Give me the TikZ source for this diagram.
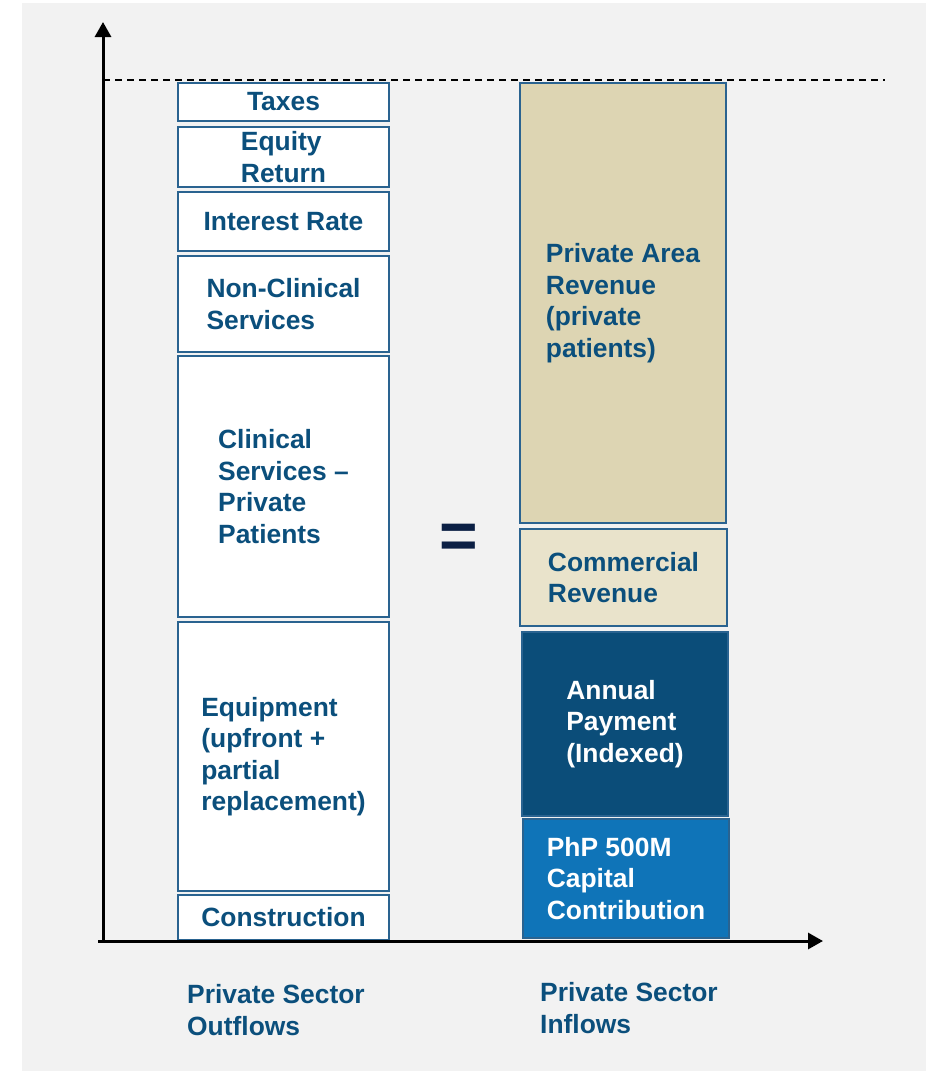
\documentclass[tikz,border=0pt]{standalone}
\usepackage{fontspec}
\setmainfont{Liberation Sans}
\usetikzlibrary{arrows.meta}
\definecolor{textblue}{HTML}{0B4F7C}
\definecolor{edgeblue}{HTML}{2A6390}
\definecolor{sand}{HTML}{DDD5B3}
\definecolor{lightsand}{HTML}{E9E3CB}
\definecolor{darkblue}{HTML}{0B4D79}
\definecolor{midblue}{HTML}{0F74B8}
\definecolor{navy}{HTML}{0B1F44}
\definecolor{panel}{HTML}{F2F2F2}
\tikzset{
  cell/.style={draw=edgeblue, line width=1.5pt, inner sep=0pt, align=left,
    font=\fontsize{26.4}{31.5}\selectfont\bfseries, text=textblue},
  outcell/.style={cell, fill=white, minimum width=211pt},
  incell/.style={cell, minimum width=206pt},
  axis/.style={line width=3pt, -{Triangle[length=15pt,width=16pt]}},
  caption/.style={inner sep=0pt, align=left, anchor=north west,
    font=\fontsize{26.4}{32}\selectfont\bfseries, text=textblue}
}
\begin{document}
\begin{tikzpicture}[x=1pt,y=-1pt]
\useasboundingbox (0,0) rectangle (930,1071);
\fill[white] (0,0) rectangle (930,1071);
\fill[panel] (22,3) rectangle (926,1071);
% axes and top line
\coordinate (yfoot) at (103,942);
\coordinate (ytip) at (103,22);
\coordinate (xfoot) at (98,941);
\coordinate (xtip) at (823,941);
\coordinate (topleft) at (103,80);
\coordinate (topright) at (885,80);
\draw[line width=1.5pt, dash pattern=on 7pt off 5pt] (topleft)--(topright);
% outflows
\node[outcell, minimum height=38pt] (taxes) at (283.5,102) {Taxes};
\node[outcell, minimum height=60pt] (equity) at (283.5,157) {Equity\\Return};
\node[outcell, minimum height=59pt] (interest) at (283.5,221.5) {Interest Rate};
\node[outcell, minimum height=96pt] (nonclinical) at (283.5,304) {Non-Clinical\\Services};
\node[outcell, minimum height=261pt] (clinical) at (283.5,486.5) {Clinical\\Services --\\Private\\Patients};
\node[outcell, minimum height=269pt] (equipment) at (283.5,756.5) {Equipment\\(upfront +\\partial\\replacement)};
\node[outcell, minimum height=45pt] (construction) at (283.5,917.5) {Construction};
% inflows
\node[incell, fill=sand, minimum height=440pt] (privatearea) at (623,303) {Private Area\\Revenue\\(private\\patients)};
\node[incell, fill=lightsand, minimum width=207pt, minimum height=97pt] (commercial) at (623.5,577.5) {Commercial\\Revenue};
\node[incell, fill=darkblue, text=white, minimum height=184pt] (annual) at (625,724) {Annual\\Payment\\(Indexed)};
\node[incell, fill=midblue, text=white, minimum height=119pt] (capital) at (626,878.5) {PhP 500M\\Capital\\Contribution};
\node[text=navy, font=\fontsize{66}{66}\selectfont\bfseries, inner sep=0pt, anchor=base] (equals) at (459,558) {=};
\draw[axis] (yfoot)--(ytip);
\draw[axis] (xfoot)--(xtip);
% captions
\node[caption] (outflows) at (187,984) {Private Sector\\Outflows};
\node[caption] (inflows) at (540,982) {Private Sector\\Inflows};
\end{tikzpicture}
\end{document}
